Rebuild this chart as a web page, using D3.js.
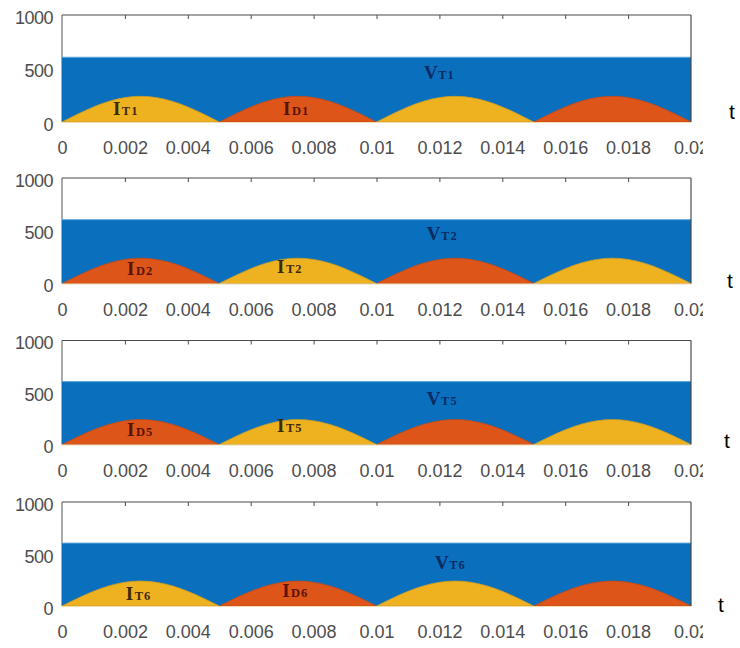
<!DOCTYPE html>
<html><head><meta charset="utf-8">
<script src="https://cdn.jsdelivr.net/npm/d3@7"></script>
<style>body{margin:0;background:#fff}</style>
</head><body><svg id="c" width="740" height="648"></svg>
<script>
// ---- data ----
const panelIds = ["1", "2", "5", "6"];
const vLevels = [605, 605, 605, 605];
const xTickValues = [0, 0.002, 0.004, 0.006, 0.008, 0.01, 0.012, 0.014, 0.016, 0.018, 0.02];
const xTickLabels = ["0", "0.002", "0.004", "0.006", "0.008", "0.01", "0.012", "0.014", "0.016", "0.018", "0.02"];
const yTickValues = [0, 500, 1000];
const yTickLabels = ["0", "500", "1000"];
const archStarts = [0, 0.005, 0.01, 0.015];
const archOffsets = [0, 0.0005, 0.001, 0.0015, 0.002, 0.0025, 0.003, 0.0035, 0.004, 0.0045, 0.005];
const archCurrent = [0, 74, 141, 194, 228, 240, 228, 194, 141, 74, 0];
const archKinds = [["T", "D", "T", "D"], ["D", "T", "D", "T"], ["D", "T", "D", "T"], ["T", "D", "T", "D"]];
const iLabelKinds = [["T", "D"], ["D", "T"], ["D", "T"], ["T", "D"]];
const iLabelT = [[0.00162, 0.00703], [0.00207, 0.00684], [0.00207, 0.00684], [0.00203, 0.0070]];
const iLabelV = [[65, 65], [76, 95], [78, 116], [58, 87]];
const vLabelT = [0.01151, 0.0116, 0.0116, 0.01186];
const vLabelV = [402, 410, 379, 356];

// ---- layout / style ----
const tops = [15, 178, 340.5, 502];
const bottoms = [122, 283.5, 444.5, 606];
const left = 62, right = 691;
const tPos = [[732, 112], [730, 281], [727, 441], [721, 605]];
const colors = { V: "#0a70be", T: "#eeb221", D: "#dd5518" };
const labelColors = { T: "#3d2a06", D: "#5a1406", V: "#0b2a62" };

const svg = d3.select("#c");
svg.append("defs").append("clipPath").attr("id", "xclip")
  .append("rect").attr("x", 0).attr("y", 0).attr("width", 703).attr("height", 648);

const x = d3.scaleLinear().domain([0, 0.02]).range([left, right]);

panelIds.forEach((pid, p) => {
  const y = d3.scaleLinear().domain([0, 1000]).range([bottoms[p], tops[p]]);
  const g = svg.append("g");

  // left axis line (under fills)
  g.append("line").attr("x1", left).attr("x2", left).attr("y1", tops[p]).attr("y2", bottoms[p])
    .attr("stroke", "#555").attr("stroke-width", 1);

  // V band
  const band = d3.area().x(d => x(d)).y0(y(0)).y1(y(vLevels[p]));
  g.append("path").datum([0, 0.02]).attr("d", band).attr("fill", colors.V);
  g.append("line").attr("x1", left).attr("x2", right).attr("y1", y(vLevels[p])).attr("y2", y(vLevels[p]))
    .attr("stroke", "#5aa6e0").attr("stroke-width", 1);

  // current arches
  const arch = d3.area()
    .x(d => x(d.t)).y0(y(0)).y1(d => y(d.v))
    .curve(d3.curveMonotoneX);
  archStarts.forEach((s, k) => {
    const pts = archOffsets.map((o, i) => ({ t: s + o, v: archCurrent[i] }));
    const kind = archKinds[p][k];
    g.append("path").datum(pts).attr("d", arch)
      .attr("fill", colors[kind])
      .attr("stroke", kind === "T" ? "#c79a2a" : "#c04a1c").attr("stroke-width", 0.8);
  });
  g.append("line").attr("x1", left).attr("x2", right).attr("y1", bottoms[p] + 0.5).attr("y2", bottoms[p] + 0.5)
    .attr("stroke", "#f6dcb0").attr("stroke-width", 1);

  // top and right box lines
  g.append("line").attr("x1", left).attr("x2", right).attr("y1", tops[p]).attr("y2", tops[p])
    .attr("stroke", "#4a4a4a").attr("stroke-width", 1.2);
  g.append("line").attr("x1", right).attr("x2", right).attr("y1", tops[p]).attr("y2", bottoms[p])
    .attr("stroke", "#4a4a4a").attr("stroke-width", 1.2);

  // top inner ticks
  const topAxis = d3.axisBottom(x).tickValues(xTickValues.slice(1, -1)).tickSize(4).tickFormat("");
  const ta = g.append("g").attr("transform", `translate(0,${tops[p]})`).call(topAxis);
  ta.select(".domain").remove();
  ta.selectAll("line").attr("stroke", "#4a4a4a");

  // x tick labels
  const xa = d3.axisBottom(x).tickValues(xTickValues).tickSize(0)
    .tickFormat((d, i) => xTickLabels[i]);
  const xg = g.append("g").attr("transform", `translate(0,${bottoms[p]})`)
    .attr("clip-path", "url(#xclip)").call(xa);
  xg.select(".domain").remove();
  xg.selectAll("text").attr("y", 26).attr("dy", "0.35em")
    .attr("font-family", "Liberation Sans, Arial, sans-serif").attr("font-size", 18)
    .attr("fill", "#4d4d4d");

  // y tick labels
  const ya = d3.axisLeft(y).tickValues(yTickValues).tickSize(0)
    .tickFormat((d, i) => yTickLabels[i]);
  const yg = g.append("g").attr("transform", `translate(${left},0)`).call(ya);
  yg.select(".domain").remove();
  yg.selectAll("text").attr("x", -9).attr("dy", "0.45em")
    .attr("font-family", "Liberation Sans, Arial, sans-serif").attr("font-size", 18)
    .attr("letter-spacing", -0.5).attr("fill", "#4d4d4d");

  // I labels
  iLabelKinds[p].forEach((kind, j) => {
    const t = g.append("text").attr("x", x(iLabelT[p][j])).attr("y", y(iLabelV[p][j]))
      .attr("font-family", "Liberation Serif, Times New Roman, serif").attr("font-weight", "bold")
      .attr("fill", labelColors[kind]);
    t.append("tspan").attr("font-size", 19).text("I");
    t.append("tspan").attr("font-size", 12.5).attr("dx", 1.5).attr("letter-spacing", 1).text(kind + pid);
  });

  // V label
  const vt = g.append("text").attr("x", x(vLabelT[p])).attr("y", y(vLabelV[p]))
    .attr("font-family", "Liberation Serif, Times New Roman, serif").attr("font-weight", "bold")
    .attr("fill", labelColors.V);
  vt.append("tspan").attr("font-size", 19).text("V");
  vt.append("tspan").attr("font-size", 12.5).attr("dx", 0.5).attr("letter-spacing", 1).text("T" + pid);

  // t label
  svg.append("text").attr("x", tPos[p][0]).attr("y", tPos[p][1]).attr("dy", "0.35em")
    .attr("text-anchor", "middle")
    .attr("font-family", "Liberation Sans, Arial, sans-serif").attr("font-size", 21)
    .attr("fill", "#000").text("t");
});
</script>
</body></html>
